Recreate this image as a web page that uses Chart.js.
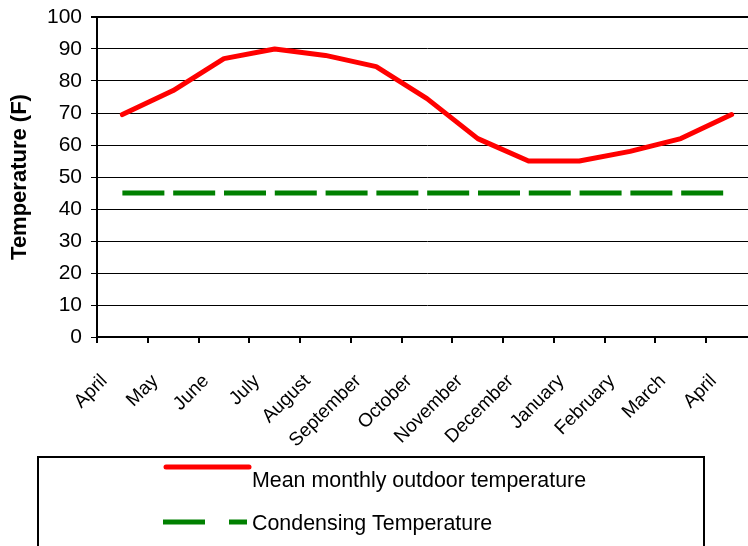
<!DOCTYPE html>
<html>
<head>
<meta charset="utf-8">
<script src="https://cdn.jsdelivr.net/npm/chart.js@4/dist/chart.umd.min.js"></script>
<style>
  html, body { margin: 0; padding: 0; background: #ffffff; overflow: hidden; }
  #wrap { position: absolute; left: 0; top: 0; width: 770px; height: 546px; }
</style>
</head>
<body>
<div id="wrap"><canvas id="c" width="770" height="546"></canvas></div>
<script>
const months = ['April', 'May', 'June', 'July', 'August', 'September', 'October',
                'November', 'December', 'January', 'February', 'March', 'April'];
const meanTemp = [69.5, 77, 87, 90, 88, 84.5, 74.5, 62, 55, 55, 58, 62, 69.5];
const condensingTemp = [45, 45, 45, 45, 45, 45, 45, 45, 45, 45, 45, 45, 45];
const seriesNames = ['Mean monthly outdoor temperature', 'Condensing Temperature'];
const yAxisTitle = 'Temperature (F)';
const yMin = 0, yMax = 100, yStep = 10;

const FONT = "'Liberation Sans', Arial, sans-serif";

const boxLegend = {
  id: 'boxLegend',
  afterDraw(chart) {
    const ctx = chart.ctx;
    const ds = chart.data.datasets;
    ctx.save();
    ctx.strokeStyle = '#000000';
    ctx.lineWidth = 2;
    ctx.setLineDash([]);
    ctx.strokeRect(38, 457, 666, 120);
    ctx.font = '21.4px ' + FONT;
    ctx.fillStyle = '#000000';
    ctx.textBaseline = 'alphabetic';
    ctx.textAlign = 'left';
    // item 1
    ctx.strokeStyle = ds[0].borderColor;
    ctx.lineWidth = 5;
    ctx.lineCap = 'round';
    ctx.beginPath(); ctx.moveTo(166, 467); ctx.lineTo(249, 467); ctx.stroke();
    ctx.fillText(ds[0].label, 252, 487);
    // item 2
    ctx.strokeStyle = ds[1].borderColor;
    ctx.lineCap = 'butt';
    ctx.setLineDash([42, 24]);
    ctx.beginPath(); ctx.moveTo(163, 522); ctx.lineTo(247, 522); ctx.stroke();
    ctx.setLineDash([]);
    ctx.fillText(ds[1].label, 252, 530);
    ctx.restore();
  }
};

new Chart(document.getElementById('c'), {
  type: 'line',
  data: {
    labels: months,
    datasets: [
      {
        label: seriesNames[0],
        data: meanTemp,
        borderColor: '#FF0000',
        backgroundColor: '#FF0000',
        borderWidth: 5,
        borderCapStyle: 'round',
        borderJoinStyle: 'round',
        pointRadius: 0,
        tension: 0,
        fill: false
      },
      {
        label: seriesNames[1],
        data: condensingTemp,
        borderColor: '#008000',
        backgroundColor: '#008000',
        borderWidth: 5,
        borderDash: [42, 8.8],
        pointRadius: 0,
        tension: 0,
        fill: false
      }
    ]
  },
  plugins: [boxLegend],
  options: {
    responsive: false,
    animation: false,
    events: [],
    layout: { padding: { top: 17, right: 13, bottom: 84, left: 0 } },
    plugins: {
      legend: { display: false },
      tooltip: { enabled: false },
      title: { display: false }
    },
    scales: {
      x: {
        type: 'category',
        offset: true,
        border: { display: true, color: '#000000', width: 2 },
        grid: {
          offset: true,
          drawOnChartArea: false,
          drawTicks: true,
          tickLength: 6,
          color: '#000000',
          lineWidth: 2
        },
        ticks: {
          autoSkip: false,
          minRotation: 45,
          maxRotation: 45,
          padding: 27,
          labelOffset: -18,
          color: '#000000',
          font: { family: FONT, size: 19 }
        },
        afterFit(scale) { scale.height = 125; scale.paddingLeft = 0; scale.paddingRight = 0; }
      },
      y: {
        min: yMin,
        max: yMax,
        border: { display: true, color: '#000000', width: 2 },
        grid: {
          color: '#000000',
          lineWidth: (c) => (c.tick && c.tick.value === yMax ? 2 : 1),
          drawTicks: true,
          tickLength: 6
        },
        ticks: {
          stepSize: yStep,
          padding: 9,
          color: '#000000',
          font: { family: FONT, size: 21 }
        },
        title: {
          display: true,
          text: yAxisTitle,
          color: '#000000',
          font: { family: FONT, size: 22, weight: 'bold' },
          padding: { top: 7, bottom: 0 }
        },
        afterFit(scale) { scale.width = 97; scale.paddingTop = 0; scale.paddingBottom = 0; }
      }
    }
  }
});
</script>
</body>
</html>
